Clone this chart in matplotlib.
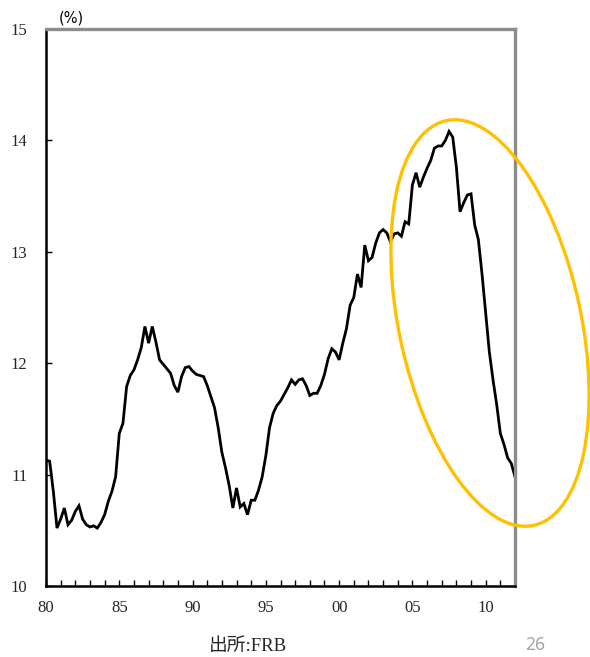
import numpy as np
import pandas as pd
import matplotlib
matplotlib.use("Agg")
import matplotlib.pyplot as plt
from matplotlib.patches import Ellipse
from matplotlib.ticker import MultipleLocator

# ---- data (quarterly, 1980Q1 - 2012Q1), %
quarters = pd.period_range("1980Q1", "2012Q1", freq="Q")
values = [
    11.13, 11.12, 10.85, 10.52, 10.60, 10.70, 10.55, 10.59, 10.67, 10.72,
    10.60, 10.55, 10.53, 10.54, 10.52, 10.57, 10.64, 10.76, 10.85, 10.98,
    11.37, 11.46, 11.79, 11.89, 11.94, 12.03, 12.14, 12.33, 12.18, 12.33,
    12.19, 12.03, 11.99, 11.95, 11.91, 11.80, 11.74, 11.88, 11.96, 11.97,
    11.93, 11.90, 11.89, 11.88, 11.80, 11.70, 11.60, 11.42, 11.20, 11.06,
    10.90, 10.70, 10.88, 10.71, 10.74, 10.64, 10.77, 10.77, 10.86, 10.98,
    11.17, 11.42, 11.55, 11.62, 11.66, 11.72, 11.78, 11.85, 11.81, 11.85,
    11.86, 11.80, 11.71, 11.73, 11.73, 11.80, 11.90, 12.04, 12.13, 12.10,
    12.03, 12.18, 12.31, 12.52, 12.59, 12.80, 12.68, 13.06, 12.92, 12.95,
    13.08, 13.17, 13.20, 13.17, 13.09, 13.16, 13.17, 13.14, 13.27, 13.25,
    13.60, 13.71, 13.58, 13.67, 13.75, 13.82, 13.93, 13.95, 13.95, 14.00,
    14.08, 14.03, 13.76, 13.36, 13.44, 13.51, 13.52, 13.24, 13.11, 12.80,
    12.45, 12.10, 11.85, 11.63, 11.37, 11.27, 11.15, 11.10, 10.98,
]
tick_years = [1980, 1985, 1990, 1995, 2000, 2005, 2010]
tick_labels = ["80", "85", "90", "95", "00", "05", "10"]
y_ticks = [10, 11, 12, 13, 14, 15]

x = np.array([p.year + (p.quarter - 1) / 4 for p in quarters])

W, H = 590, 657
fig = plt.figure(figsize=(W / 100, H / 100), dpi=100)
ax = fig.add_axes([46 / W, 1 - 586 / H, (515 - 46) / W, (586 - 29) / H])

ax.plot(x, values, color="black", lw=2.0, solid_joinstyle="miter")
ax.set_xlim(1980, 2012)
ax.set_ylim(10, 15)

serif = "Liberation Serif"
lab_col = "#262626"
ax.set_xticks(tick_years)
ax.set_xticklabels(tick_labels, fontfamily=serif, fontsize=12, color=lab_col)
ax.xaxis.set_minor_locator(MultipleLocator(1))
ax.set_yticks(y_ticks)
ax.set_yticklabels([str(v) for v in y_ticks], fontfamily=serif, fontsize=12,
                   color=lab_col)

ax.tick_params(axis="x", which="both", direction="in", length=4, width=1,
               color="black", pad=10, top=False)
ax.tick_params(axis="y", which="both", direction="in", length=4, width=1,
               color="black", pad=13.5, right=False)

for s in ["left", "bottom"]:
    ax.spines[s].set_color("black")
    ax.spines[s].set_linewidth(1.8)
for s in ["top", "right"]:
    ax.spines[s].set_color("#8c8c8c")
    ax.spines[s].set_linewidth(2.4)

fig.text(71 / W, 1 - 18 / H, "(%)", fontfamily="DejaVu Sans", fontsize=10.5,
         ha="center", va="center")
fig.text(248 / W, 1 - 646 / H, "出所:FRB",
         fontfamily=[serif, "Noto Sans CJK JP"], fontsize=13.5,
         color=lab_col, ha="center", va="center")
fig.text(535 / W, 1 - 645 / H, "26", fontfamily="Noto Sans", fontsize=12.5,
         color="#a6a6a6", ha="center", va="center")

ell = Ellipse((4.90, (H - 323) / 100), width=4.14, height=1.82, angle=-77.8,
              transform=fig.dpi_scale_trans, fill=False, edgecolor="#FFC000",
              lw=2.4, clip_on=False)
fig.add_artist(ell)

fig.savefig("out.png", dpi=100)
